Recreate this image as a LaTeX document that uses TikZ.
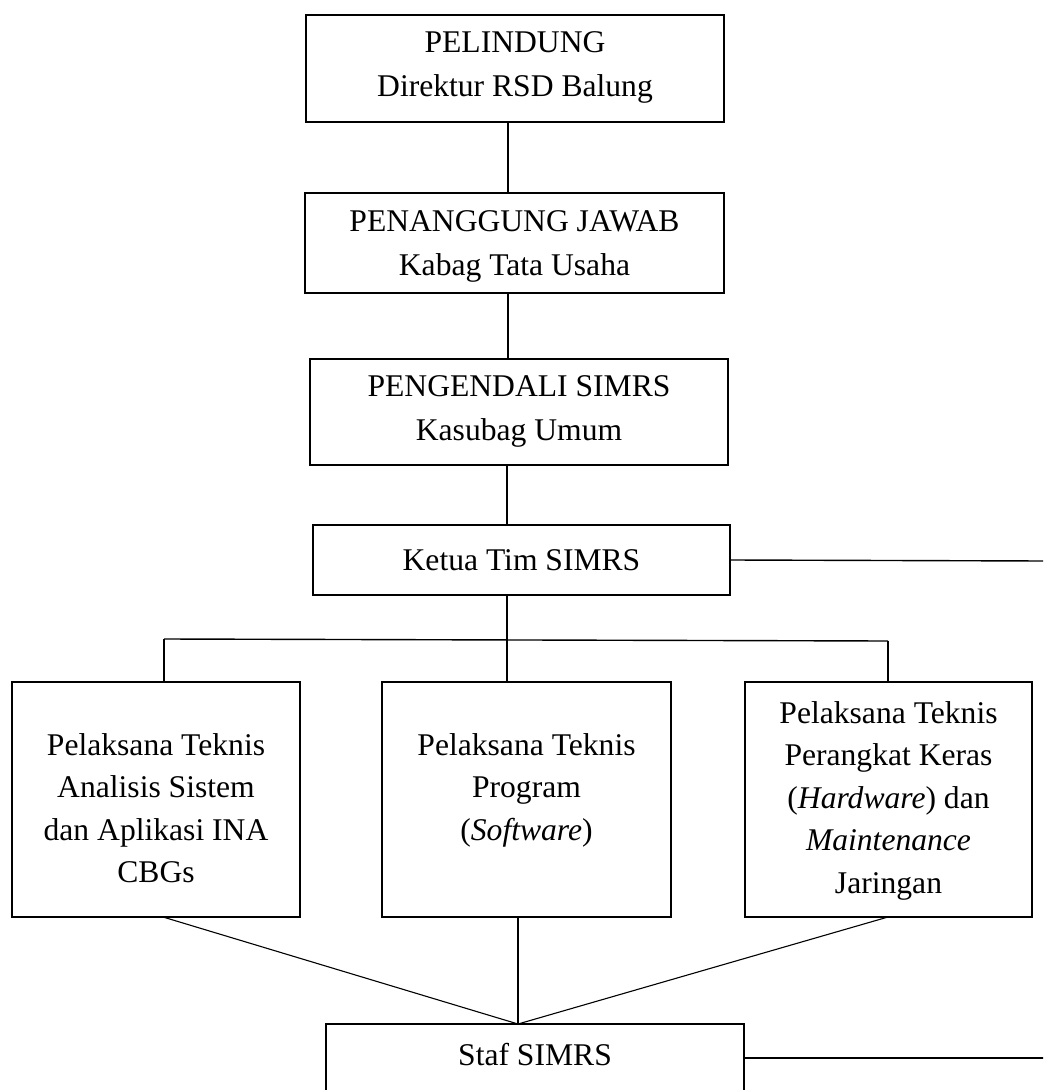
\documentclass[tikz,border=0pt]{standalone}
\usepackage{fontspec}
\setmainfont{Liberation Serif}
\begin{document}
\begin{tikzpicture}[x=0.5pt,y=-0.5pt,
  box/.style={draw, line width=0.7pt, inner sep=0pt, outer sep=0pt},
  txt/.style={anchor=north, inner sep=0pt, outer sep=0pt, align=center,
    font=\fontsize{15.8}{22}\selectfont},
  txtl/.style={txt, font=\fontsize{15.8}{21.25}\selectfont},
  thick link/.style={line width=1.1pt},
  mid link/.style={line width=0.7pt},
  thin link/.style={line width=0.55pt}]
\useasboundingbox (0,0) rectangle (1043,1090);
\clip (0,0) rectangle (1043,1090);

% boxes
\node[box, minimum width=209pt,   minimum height=53.5pt] (b1) at (515,68.5)   {};
\node[box, minimum width=209.5pt, minimum height=50pt]   (b2) at (514.5,243)   {};
\node[box, minimum width=209pt,   minimum height=53pt]   (b3) at (519,412)     {};
\node[box, minimum width=208.5pt, minimum height=35pt]   (b4) at (521.5,560)   {};
\node[box, minimum width=144pt,   minimum height=117.5pt] (bA) at (156,799.5)  {};
\node[box, minimum width=144.5pt, minimum height=117.5pt] (bB) at (526.5,799.5) {};
\node[box, minimum width=143.5pt, minimum height=117.5pt] (bC) at (888.5,799.5) {};
\node[box, minimum width=209pt,   minimum height=43pt]   (sf) at (535,1067)    {};

% texts
\node[txt] (t1) at (515,22.2)    {\strut PELINDUNG\\Direktur RSD Balung};
\node[txt] (t2) at (514.5,201.2) {\strut PENANGGUNG JAWAB\\Kabag Tata Usaha};
\node[txt] (t3) at (519,365.2)   {\strut PENGENDALI SIMRS\\Kasubag Umum};
\node[txt] (t4) at (521.5,539.2) {\strut Ketua Tim SIMRS};
\node[txtl] (tA) at (156,725.25) {\strut Pelaksana Teknis\\Analisis Sistem\\dan Aplikasi INA\\CBGs};
\node[txtl] (tB) at (526.5,725.25) {\strut Pelaksana Teknis\\Program\\(\textit{Software})};
\node[txtl] (tC) at (888.5,693.25) {\strut Pelaksana Teknis\\Perangkat Keras\\(\textit{Hardware}) dan\\\textit{Maintenance}\\Jaringan};
\node[txt] (tS) at (535,1034.2) {\strut Staf SIMRS};

% helper coordinates
\coordinate (axis)  at (508,0);
\coordinate (axis2) at (507,0);
\coordinate (busL)  at (164,639);
\coordinate (busR)  at (888,641);
\coordinate (la)    at (163,0);
\coordinate (meet)  at (518,1024);
\coordinate (edge1) at (1045,561);
\coordinate (edge2) at (1045,1058);

% chain of command
\draw[thick link] (b1.south -| axis)  -- (b2.north -| axis);
\draw[thick link] (b2.south -| axis)  -- (b3.north -| axis);
\draw[thick link] (b3.south -| axis2) -- (b4.north -| axis2);
\draw[mid link]   (b4.east) -- (edge1);

% branch to the three technical units
\draw[mid link]   (busL) -- (busR);
\draw[thick link] (busL) -- (busL |- bA.north);
\draw[thick link] (busR) -- (busR |- bC.north);
\draw[thick link] (b4.south -| axis2) -- (bB.north -| axis2);

% links down to the staff
\draw[thin link] (bA.south -| la)   -- (meet);
\draw[thin link] (bB.south -| meet) -- (meet);
\draw[thin link] (bC.south -| busR) -- (meet);
\draw[mid link]  (sf.east |- edge2) -- (edge2);
\end{tikzpicture}
\end{document}
